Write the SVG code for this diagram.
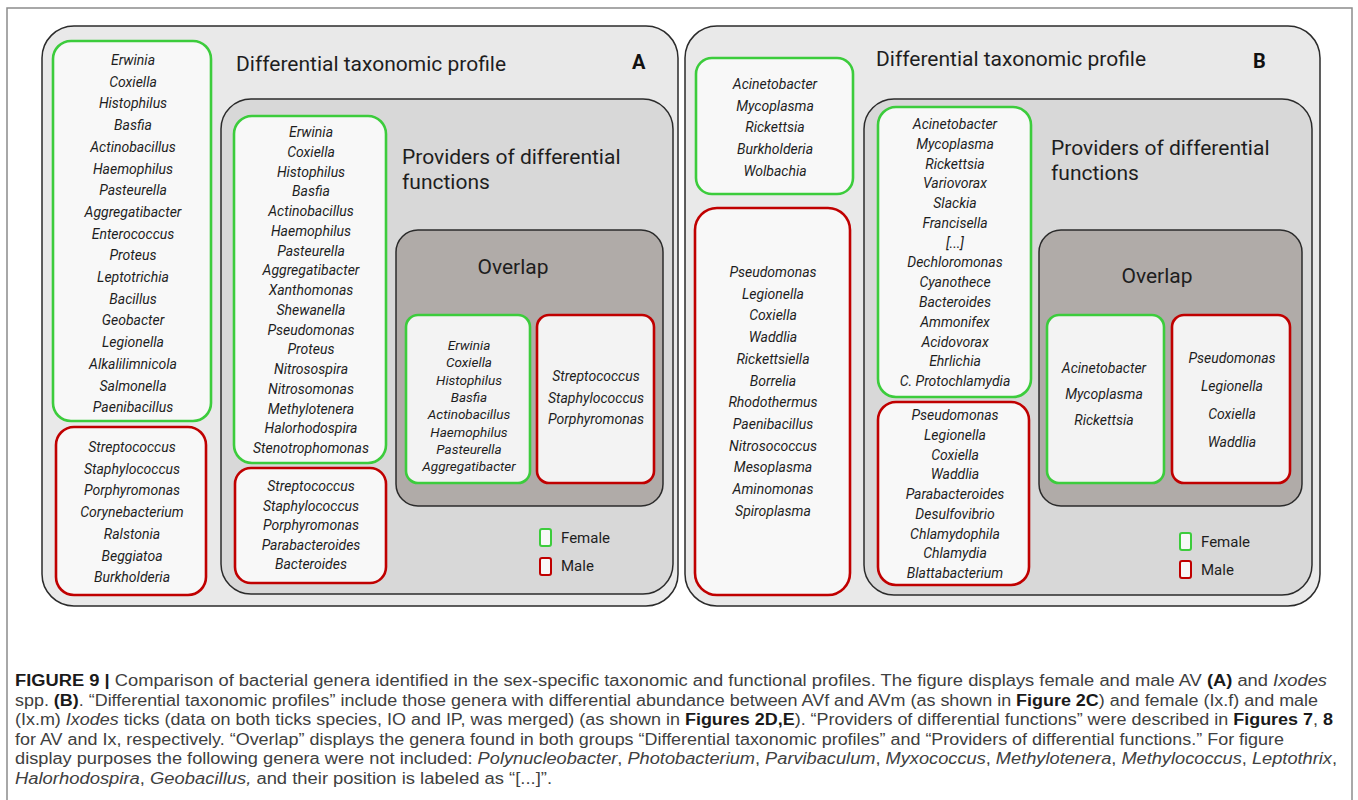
<svg xmlns="http://www.w3.org/2000/svg" width="1358" height="800" viewBox="0 0 1358 800">
<style>
.frame{fill:#ffffff;stroke:#8c8c8c;stroke-width:1.5}
.outer{fill:#e9e9e9;stroke:#2b2b2b;stroke-width:1.5}
.inner{fill:#d8d8d8;stroke:#2b2b2b;stroke-width:1.5}
.ovl{fill:#b0aba8;stroke:#2b2b2b;stroke-width:1.5}
.gbox{fill:#f8f8f8;stroke:#3ccc3c;stroke-width:2.6}
.rbox{fill:#f8f8f8;stroke:#c00000;stroke-width:2.6}
.gbox2{fill:#f3f3f3;stroke:#3ccc3c;stroke-width:2.6}
.rbox2{fill:#f3f3f3;stroke:#c00000;stroke-width:2.6}
.sp{font-family:Roboto,"Liberation Sans",sans-serif;font-style:italic;font-size:14px;fill:#1e1e1e;text-anchor:middle}
.sp2{font-family:Roboto,"Liberation Sans",sans-serif;font-style:italic;font-size:13.5px;fill:#1e1e1e;text-anchor:middle}
.ttl{font-family:Roboto,"Liberation Sans",sans-serif;font-size:21px;fill:#1e1e1e}
.lab{font-family:Roboto,"Liberation Sans",sans-serif;font-size:20px;font-weight:bold;fill:#111}
.leg{font-family:Roboto,"Liberation Sans",sans-serif;font-size:15px;fill:#1e1e1e}
.cap{font-family:"Liberation Sans",Arial,sans-serif;font-size:16px;fill:#404040}
.b{font-weight:bold;fill:#1a1a1a}
.i{font-style:italic}
</style>
<rect class="frame" x="7" y="8" width="1345" height="820"/>

<g id="panelA">
  <rect class="outer" x="42" y="26" width="636" height="580" rx="32"/>
  <text class="ttl" x="236" y="71">Differential taxonomic profile</text>
  <text class="lab" x="632" y="69">A</text>
</g>
<g id="A-dtp-female">
  <rect class="gbox" x="53" y="41" width="158" height="380" rx="18"/>
  <text class="sp" x="133" y="65">Erwinia</text>
  <text class="sp" x="133" y="86.7">Coxiella</text>
  <text class="sp" x="133" y="108.4">Histophilus</text>
  <text class="sp" x="133" y="130.1">Basfia</text>
  <text class="sp" x="133" y="151.8">Actinobacillus</text>
  <text class="sp" x="133" y="173.5">Haemophilus</text>
  <text class="sp" x="133" y="195.2">Pasteurella</text>
  <text class="sp" x="133" y="216.9">Aggregatibacter</text>
  <text class="sp" x="133" y="238.6">Enterococcus</text>
  <text class="sp" x="133" y="260.3">Proteus</text>
  <text class="sp" x="133" y="282">Leptotrichia</text>
  <text class="sp" x="133" y="303.7">Bacillus</text>
  <text class="sp" x="133" y="325.4">Geobacter</text>
  <text class="sp" x="133" y="347.1">Legionella</text>
  <text class="sp" x="133" y="368.8">Alkalilimnicola</text>
  <text class="sp" x="133" y="390.5">Salmonella</text>
  <text class="sp" x="133" y="412.2">Paenibacillus</text>
</g>
<g id="A-dtp-male">
  <rect class="rbox" x="56" y="427" width="150" height="168" rx="18"/>
  <text class="sp" x="132" y="452">Streptococcus</text>
  <text class="sp" x="132" y="473.7">Staphylococcus</text>
  <text class="sp" x="132" y="495.4">Porphyromonas</text>
  <text class="sp" x="132" y="517.1">Corynebacterium</text>
  <text class="sp" x="132" y="538.8">Ralstonia</text>
  <text class="sp" x="132" y="560.5">Beggiatoa</text>
  <text class="sp" x="132" y="582.2">Burkholderia</text>
</g>
<g id="A-providers">
  <rect class="inner" x="221" y="99" width="452" height="495" rx="30"/>
  <text class="ttl" x="402" y="164">Providers of differential</text>
  <text class="ttl" x="402" y="189">functions</text>
</g>
<g id="A-prov-female">
  <rect class="gbox" x="234" y="116" width="152" height="347" rx="18"/>
  <text class="sp" x="311" y="137">Erwinia</text>
  <text class="sp" x="311" y="156.75">Coxiella</text>
  <text class="sp" x="311" y="176.5">Histophilus</text>
  <text class="sp" x="311" y="196.25">Basfia</text>
  <text class="sp" x="311" y="216">Actinobacillus</text>
  <text class="sp" x="311" y="235.75">Haemophilus</text>
  <text class="sp" x="311" y="255.5">Pasteurella</text>
  <text class="sp" x="311" y="275.25">Aggregatibacter</text>
  <text class="sp" x="311" y="295">Xanthomonas</text>
  <text class="sp" x="311" y="314.75">Shewanella</text>
  <text class="sp" x="311" y="334.5">Pseudomonas</text>
  <text class="sp" x="311" y="354.25">Proteus</text>
  <text class="sp" x="311" y="374">Nitrosospira</text>
  <text class="sp" x="311" y="393.75">Nitrosomonas</text>
  <text class="sp" x="311" y="413.5">Methylotenera</text>
  <text class="sp" x="311" y="433.25">Halorhodospira</text>
  <text class="sp" x="311" y="453">Stenotrophomonas</text>
</g>
<g id="A-prov-male">
  <rect class="rbox" x="235" y="468" width="151" height="115" rx="16"/>
  <text class="sp" x="311" y="491">Streptococcus</text>
  <text class="sp" x="311" y="510.5">Staphylococcus</text>
  <text class="sp" x="311" y="530">Porphyromonas</text>
  <text class="sp" x="311" y="549.5">Parabacteroides</text>
  <text class="sp" x="311" y="569">Bacteroides</text>
</g>
<g id="A-overlap">
  <rect class="ovl" x="396" y="230" width="267" height="276" rx="22"/>
  <text class="ttl" x="513" y="274" text-anchor="middle">Overlap</text>
</g>
<g id="A-ovl-female">
  <rect class="gbox2" x="406" y="315" width="124" height="168" rx="12"/>
  <text class="sp2" x="469" y="350">Erwinia</text>
  <text class="sp2" x="469" y="367.3">Coxiella</text>
  <text class="sp2" x="469" y="384.6">Histophilus</text>
  <text class="sp2" x="469" y="401.9">Basfia</text>
  <text class="sp2" x="469" y="419.2">Actinobacillus</text>
  <text class="sp2" x="469" y="436.5">Haemophilus</text>
  <text class="sp2" x="469" y="453.8">Pasteurella</text>
  <text class="sp2" x="469" y="471.1">Aggregatibacter</text>
</g>
<g id="A-ovl-male">
  <rect class="rbox2" x="537" y="315" width="117" height="168" rx="12"/>
  <text class="sp" x="596" y="381">Streptococcus</text>
  <text class="sp" x="596" y="402.5">Staphylococcus</text>
  <text class="sp" x="596" y="424">Porphyromonas</text>
</g>
<g id="A-legend">
  <rect x="540" y="529" width="11" height="17" rx="2" fill="#f8f8f8" stroke="#3ccc3c" stroke-width="2"/>
  <text class="leg" x="561" y="543">Female</text>
  <rect x="540" y="558" width="11" height="17" rx="2" fill="#f8f8f8" stroke="#c00000" stroke-width="2"/>
  <text class="leg" x="561" y="571">Male</text>
</g>

<g id="panelB">
  <rect class="outer" x="685" y="26" width="635" height="580" rx="32"/>
  <text class="ttl" x="876" y="66">Differential taxonomic profile</text>
  <text class="lab" x="1253" y="68">B</text>
</g>
<g id="B-dtp-female">
  <rect class="gbox" x="696" y="58" width="157" height="136" rx="16"/>
  <text class="sp" x="775" y="89">Acinetobacter</text>
  <text class="sp" x="775" y="110.7">Mycoplasma</text>
  <text class="sp" x="775" y="132.4">Rickettsia</text>
  <text class="sp" x="775" y="154.1">Burkholderia</text>
  <text class="sp" x="775" y="175.8">Wolbachia</text>
</g>
<g id="B-dtp-male">
  <rect class="rbox" x="695" y="208" width="155" height="387" rx="22"/>
  <text class="sp" x="773" y="277">Pseudomonas</text>
  <text class="sp" x="773" y="298.7">Legionella</text>
  <text class="sp" x="773" y="320.4">Coxiella</text>
  <text class="sp" x="773" y="342.1">Waddlia</text>
  <text class="sp" x="773" y="363.8">Rickettsiella</text>
  <text class="sp" x="773" y="385.5">Borrelia</text>
  <text class="sp" x="773" y="407.2">Rhodothermus</text>
  <text class="sp" x="773" y="428.9">Paenibacillus</text>
  <text class="sp" x="773" y="450.6">Nitrosococcus</text>
  <text class="sp" x="773" y="472.3">Mesoplasma</text>
  <text class="sp" x="773" y="494">Aminomonas</text>
  <text class="sp" x="773" y="515.7">Spiroplasma</text>
</g>
<g id="B-providers">
  <rect class="inner" x="864" y="99" width="448" height="496" rx="30"/>
  <text class="ttl" x="1051" y="155">Providers of differential</text>
  <text class="ttl" x="1051" y="180">functions</text>
</g>
<g id="B-prov-female">
  <rect class="gbox" x="878" y="107" width="153" height="290" rx="18"/>
  <text class="sp" x="955" y="129">Acinetobacter</text>
  <text class="sp" x="955" y="148.8">Mycoplasma</text>
  <text class="sp" x="955" y="168.5">Rickettsia</text>
  <text class="sp" x="955" y="188.3">Variovorax</text>
  <text class="sp" x="955" y="208.1">Slackia</text>
  <text class="sp" x="955" y="227.8">Francisella</text>
  <text class="sp" x="955" y="247.6" font-style="normal">[...]</text>
  <text class="sp" x="955" y="267.4">Dechloromonas</text>
  <text class="sp" x="955" y="287.2">Cyanothece</text>
  <text class="sp" x="955" y="306.9">Bacteroides</text>
  <text class="sp" x="955" y="326.7">Ammonifex</text>
  <text class="sp" x="955" y="346.5">Acidovorax</text>
  <text class="sp" x="955" y="366.2">Ehrlichia</text>
  <text class="sp" x="955" y="386">C. Protochlamydia</text>
</g>
<g id="B-prov-male">
  <rect class="rbox" x="878" y="402" width="151" height="183" rx="18"/>
  <text class="sp" x="955" y="420">Pseudomonas</text>
  <text class="sp" x="955" y="439.75">Legionella</text>
  <text class="sp" x="955" y="459.5">Coxiella</text>
  <text class="sp" x="955" y="479.25">Waddlia</text>
  <text class="sp" x="955" y="499">Parabacteroides</text>
  <text class="sp" x="955" y="518.75">Desulfovibrio</text>
  <text class="sp" x="955" y="538.5">Chlamydophila</text>
  <text class="sp" x="955" y="558.25">Chlamydia</text>
  <text class="sp" x="955" y="578">Blattabacterium</text>
</g>
<g id="B-overlap">
  <rect class="ovl" x="1039" y="230" width="263" height="276" rx="22"/>
  <text class="ttl" x="1157" y="283" text-anchor="middle">Overlap</text>
</g>
<g id="B-ovl-female">
  <rect class="gbox2" x="1047" y="315" width="117" height="168" rx="12"/>
  <text class="sp" x="1104" y="373">Acinetobacter</text>
  <text class="sp" x="1104" y="399">Mycoplasma</text>
  <text class="sp" x="1104" y="425">Rickettsia</text>
</g>
<g id="B-ovl-male">
  <rect class="rbox2" x="1172" y="315" width="118" height="168" rx="12"/>
  <text class="sp" x="1232" y="363">Pseudomonas</text>
  <text class="sp" x="1232" y="391">Legionella</text>
  <text class="sp" x="1232" y="419">Coxiella</text>
  <text class="sp" x="1232" y="447">Waddlia</text>
</g>
<g id="B-legend">
  <rect x="1180" y="533" width="11" height="17" rx="2" fill="#f8f8f8" stroke="#3ccc3c" stroke-width="2"/>
  <text class="leg" x="1201" y="547">Female</text>
  <rect x="1180" y="561" width="11" height="17" rx="2" fill="#f8f8f8" stroke="#c00000" stroke-width="2"/>
  <text class="leg" x="1201" y="575">Male</text>
</g>

<g id="connectors"></g>

<g id="caption">
  <text class="cap" x="15" y="686" textLength="1312" lengthAdjust="spacingAndGlyphs"><tspan class="b">FIGURE 9 |</tspan> Comparison of bacterial genera identified in the sex-specific taxonomic and functional profiles. The figure displays female and male AV <tspan class="b">(A)</tspan> and <tspan class="i">Ixodes</tspan></text>
  <text class="cap" x="15" y="705.6" textLength="1303" lengthAdjust="spacingAndGlyphs">spp. <tspan class="b">(B)</tspan>. “Differential taxonomic profiles” include those genera with differential abundance between AVf and AVm (as shown in <tspan class="b">Figure 2C</tspan>) and female (Ix.f) and male</text>
  <text class="cap" x="15" y="725.2" textLength="1318" lengthAdjust="spacingAndGlyphs">(Ix.m) <tspan class="i">Ixodes</tspan> ticks (data on both ticks species, IO and IP, was merged) (as shown in <tspan class="b">Figures 2D,E</tspan>). “Providers of differential functions” were described in <tspan class="b">Figures 7</tspan>, <tspan class="b">8</tspan></text>
  <text class="cap" x="15" y="744.8" textLength="1269" lengthAdjust="spacingAndGlyphs">for AV and Ix, respectively. “Overlap” displays the genera found in both groups “Differential taxonomic profiles” and “Providers of differential functions.” For figure</text>
  <text class="cap" x="15" y="764.4" textLength="1322" lengthAdjust="spacingAndGlyphs">display purposes the following genera were not included: <tspan class="i">Polynucleobacter</tspan>, <tspan class="i">Photobacterium</tspan>, <tspan class="i">Parvibaculum</tspan>, <tspan class="i">Myxococcus</tspan>, <tspan class="i">Methylotenera</tspan>, <tspan class="i">Methylococcus</tspan>, <tspan class="i">Leptothrix</tspan>,</text>
  <text class="cap" x="15" y="784" textLength="537" lengthAdjust="spacingAndGlyphs"><tspan class="i">Halorhodospira</tspan>, <tspan class="i">Geobacillus,</tspan> and their position is labeled as “[...]”.</text>
</g>
</svg>
